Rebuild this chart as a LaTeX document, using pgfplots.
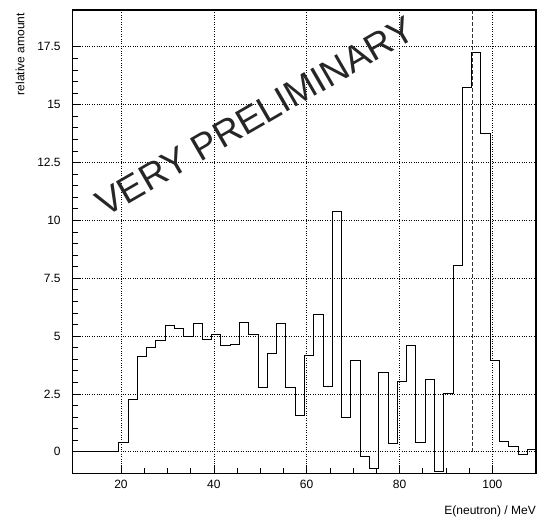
\documentclass[border=0pt]{standalone}
\usepackage{fontspec}
\setmainfont{Liberation Sans}
\usepackage{pgfplots}
\pgfplotsset{compat=1.18}

% bin left edge, content (2 MeV bins)
\begin{document}
\begin{tikzpicture}
\useasboundingbox (-72.7pt,-44.5pt) rectangle (465.3pt,473.5pt);
\begin{axis}[
    scale only axis,
    width=463.3pt, height=463.5pt,
    at={(0pt,0pt)}, anchor=south west,
    xmin=9.6, xmax=109.4,
    ymin=-0.94, ymax=19.09,
    xtick={20,40,60,80,100},
    ytick={0,2.5,5,7.5,10,12.5,15,17.5},
    minor x tick num=3,
    minor y tick num=4,
    tick pos=left,
    tick align=inside,
    major tick length=8pt,
    minor tick length=5pt,
    every tick/.style={black, line width=0.6pt},
    axis line style={black, line width=1.1pt},
    grid=major,
    grid style={black, dotted, line width=0.6pt},
    /pgf/number format/assume math mode=true,
    ticklabel style={font=\fontsize{12}{14}\selectfont},
    xticklabel style={anchor=north, yshift=-3pt},
    yticklabel style={anchor=east, xshift=-8.5pt},
    xlabel={E(neutron) / MeV},
    xlabel style={at={(rel axis cs:1,0)}, anchor=north east, inner sep=0pt,
        yshift=-32pt, font=\fontsize{12}{14}\selectfont},
    ylabel={relative amount},
    ylabel style={at={([xshift=-52.7pt,yshift=-3pt]rel axis cs:0,1)}, anchor=east,
        inner sep=0pt, font=\fontsize{12}{14}\selectfont},
    clip=true,
]
\addplot[const plot mark left, black, line width=0.8pt] coordinates {
    (9.5,0) (11.5,0) (13.5,0) (15.5,0) (17.5,0)
    (19.5,0.42) (21.5,2.25) (23.5,4.11) (25.5,4.52) (27.5,4.80)
    (29.5,5.48) (31.5,5.31) (33.5,4.99) (35.5,5.53) (37.5,4.86)
    (39.5,5.05) (41.5,4.60) (43.5,4.65) (45.5,5.58) (47.5,5.06)
    (49.5,2.77) (51.5,4.24) (53.5,5.54) (55.5,2.77) (57.5,1.56)
    (59.5,4.18) (61.5,5.93) (63.5,2.83) (65.5,10.38) (67.5,1.50)
    (69.5,3.93) (71.5,-0.20) (73.5,-0.72) (75.5,3.43) (77.5,0.37)
    (79.5,3.04) (81.5,4.59) (83.5,0.40) (85.5,3.12) (87.5,-0.85)
    (89.5,2.50) (91.5,8.05) (93.5,15.73) (95.5,17.24) (97.5,13.75)
    (99.5,3.95) (101.5,0.45) (103.5,0.23) (105.5,-0.13) (107.5,0.09)
    (109.5,0.09)
};
\addplot[black!80, line width=0.8pt, dash pattern=on 4pt off 2pt] coordinates {
    (95.67,0) (95.67,19.3)
};
\node[rotate=30, anchor=center, inner sep=0pt, text=black!85,
      font=\fontsize{37}{40}\selectfont] at (axis cs:48.9,14.5) {VERY PRELIMINARY};
\end{axis}
\end{tikzpicture}
\end{document}
